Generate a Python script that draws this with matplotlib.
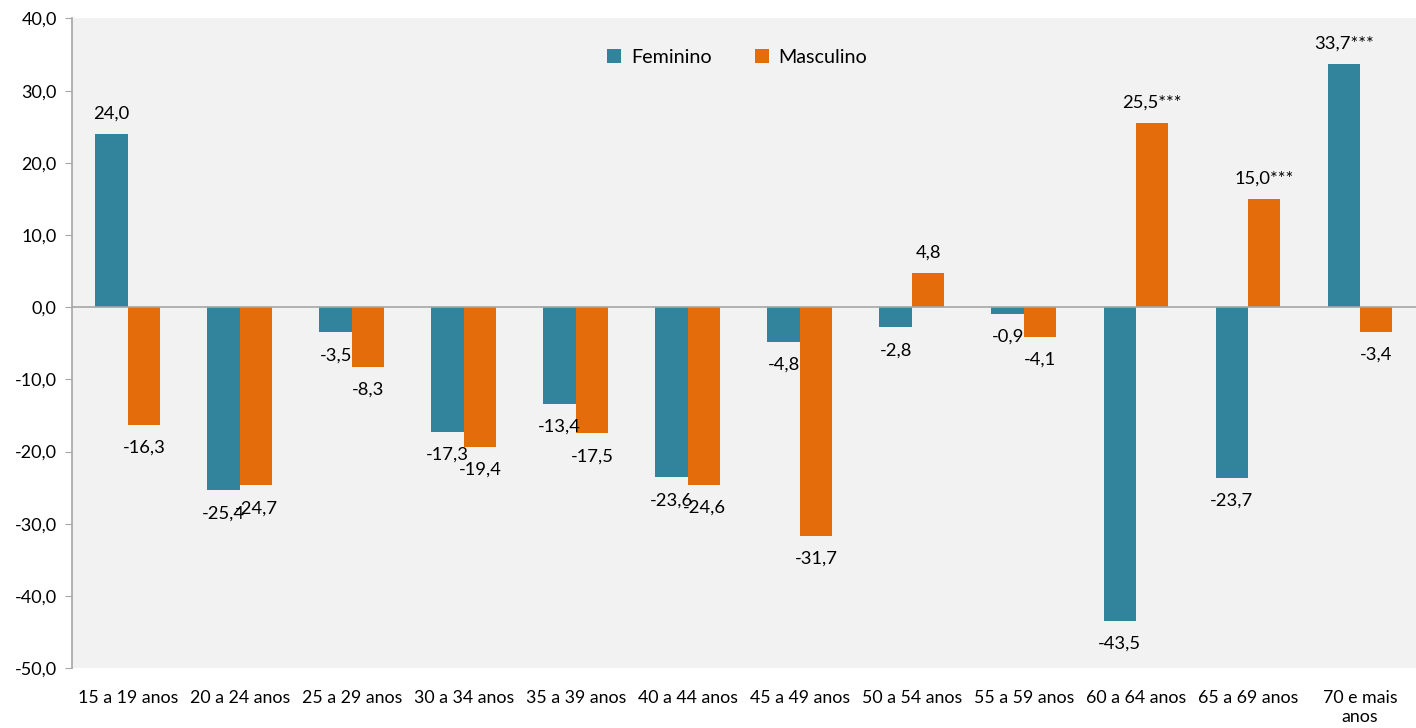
import matplotlib
matplotlib.use("Agg")
import matplotlib.pyplot as plt
import numpy as np

categories = ["15 a 19 anos", "20 a 24 anos", "25 a 29 anos", "30 a 34 anos", "35 a 39 anos",
              "40 a 44 anos", "45 a 49 anos", "50 a 54 anos", "55 a 59 anos", "60 a 64 anos",
              "65 a 69 anos", "70 e mais\nanos"]
feminino = [24.0, -25.4, -3.5, -17.3, -13.4, -23.6, -4.8, -2.8, -0.9, -43.5, -23.7, 33.7]
masculino = [-16.3, -24.7, -8.3, -19.4, -17.5, -24.6, -31.7, 4.8, -4.1, 25.5, 15.0, -3.4]
fem_suffix = [""] * 11 + ["***"]
masc_suffix = [""] * 9 + ["***", "***", ""]
yticks = [40, 30, 20, 10, 0, -10, -20, -30, -40, -50]

plt.rcParams['font.family'] = ['Lato', 'DejaVu Sans']

fig = plt.figure(figsize=(14.16, 7.28), dpi=100)
ax = fig.add_axes([0.0508, 0.0824, 0.9492, 0.8922])
ax.set_facecolor("#f2f2f2")

c_f = "#31849b"
c_m = "#e46c0a"
x = np.arange(len(categories))
w = 0.29
ax.bar(x - w / 2, feminino, w, color=c_f, label="Feminino")
ax.bar(x + w / 2, masculino, w, color=c_m, label="Masculino")

def fmt(v, s):
    return f"{v:.1f}".replace(".", ",") + s

for xs, vals, suf in ((x - w / 2, feminino, fem_suffix), (x + w / 2, masculino, masc_suffix)):
    for xi, v, s in zip(xs, vals, suf):
        off = 14.5 if v >= 0 else -16.5
        ax.annotate(fmt(v, s), (xi, v), xytext=(0, off), textcoords="offset points",
                    ha="center", va="center", fontsize=13.2, color="#000000")

ax.axhline(0, color="#a6a6a6", lw=1.2)
ax.set_xlim(-0.5, len(categories) - 0.5)
ax.set_ylim(-50, 40)
ax.set_yticks(yticks)
ax.set_yticklabels([fmt(t, "") for t in yticks], fontsize=13)
ax.set_xticks(x)
ax.set_xticklabels(categories, fontsize=12.8, va="top")
ax.tick_params(axis="x", length=0, pad=16)
ax.tick_params(axis="y", length=5, color="#a6a6a6", pad=6)
for s in ["top", "right", "bottom"]:
    ax.spines[s].set_visible(False)
ax.spines["left"].set_color("#a6a6a6")
ax.spines["left"].set_linewidth(1.2)

ax.legend(loc="upper center", bbox_to_anchor=(0.495, 0.98), ncol=2, frameon=False,
          fontsize=14.2, handlelength=0.7, handleheight=0.7, columnspacing=2.2, handletextpad=0.5)

fig.savefig("out.png", dpi=100, facecolor="white")
